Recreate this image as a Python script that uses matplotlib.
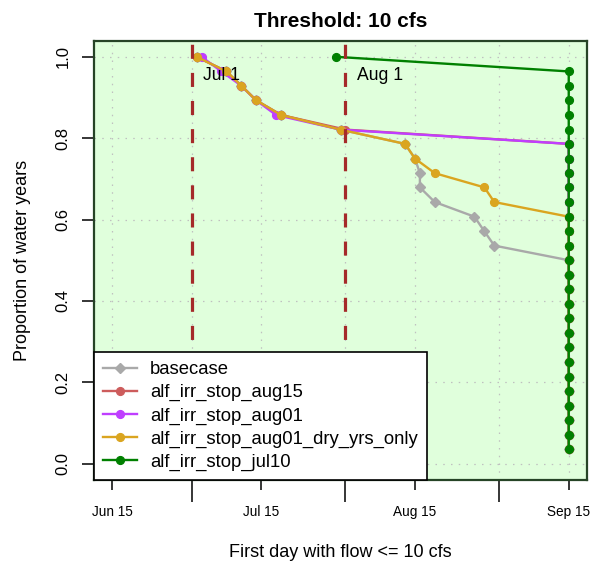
import pandas as pd
import numpy as np
import matplotlib
matplotlib.use("Agg")
import matplotlib.pyplot as plt

plt.rcParams['font.family'] = ['Liberation Sans', 'DejaVu Sans']

## Proportion of water years (28 years), highest first
proportion = [1.000, 0.964, 0.929, 0.893, 0.857, 0.821, 0.786, 0.750, 0.714, 0.679,
              0.643, 0.607, 0.571, 0.536, 0.500, 0.464, 0.429, 0.393, 0.357, 0.321,
              0.286, 0.250, 0.214, 0.179, 0.143, 0.107, 0.071, 0.036]

## First day with flow <= 10 cfs, sorted (Sep 15 = threshold not reached)
basecase = ["07-02", "07-08", "07-11", "07-14", "07-19", "07-31", "08-13", "08-15",
            "08-16", "08-16", "08-19", "08-27", "08-29", "08-31",
            "09-15", "09-15", "09-15", "09-15", "09-15", "09-15", "09-15",
            "09-15", "09-15", "09-15", "09-15", "09-15", "09-15", "09-15"]
stop_aug15 = ["07-02", "07-08", "07-11", "07-14", "07-19", "08-01",
              "09-15", "09-15", "09-15", "09-15", "09-15", "09-15", "09-15", "09-15",
              "09-15", "09-15", "09-15", "09-15", "09-15", "09-15", "09-15",
              "09-15", "09-15", "09-15", "09-15", "09-15", "09-15", "09-15"]
stop_aug01 = ["07-03", "07-07", "07-11", "07-14", "07-18", "07-31",
              "09-15", "09-15", "09-15", "09-15", "09-15", "09-15", "09-15", "09-15",
              "09-15", "09-15", "09-15", "09-15", "09-15", "09-15", "09-15",
              "09-15", "09-15", "09-15", "09-15", "09-15", "09-15", "09-15"]
stop_aug01_dry = ["07-02", "07-08", "07-11", "07-14", "07-19", "07-31", "08-13", "08-15",
                  "08-19", "08-29", "08-31",
                  "09-15", "09-15", "09-15", "09-15", "09-15", "09-15", "09-15",
                  "09-15", "09-15", "09-15", "09-15", "09-15", "09-15", "09-15",
                  "09-15", "09-15", "09-15"]
stop_jul10 = ["07-30",
              "09-15", "09-15", "09-15", "09-15", "09-15", "09-15", "09-15", "09-15",
              "09-15", "09-15", "09-15", "09-15", "09-15", "09-15", "09-15", "09-15",
              "09-15", "09-15", "09-15", "09-15", "09-15", "09-15", "09-15", "09-15",
              "09-15", "09-15", "09-15"]

series = [basecase, stop_aug15, stop_aug01, stop_aug01_dry, stop_jul10]
names = ["basecase", "alf_irr_stop_aug15", "alf_irr_stop_aug01",
         "alf_irr_stop_aug01_dry_yrs_only", "alf_irr_stop_jul10"]
colors = ["#A9A9A9", "#CD5C5C", "#BF3EFF", "#DAA520", "#008000"]
markers = ["D", "o", "o", "o", "o"]

tick_labels = ["Jun 15", "Jul 15", "Aug 15", "Sep 15"]
month_starts = ["07-01", "08-01", "09-01"]
marker_labels = ["Jul 1", "Aug 1"]

def to_dates(days):
    return pd.to_datetime(["2001-" + d for d in days])

fig = plt.figure(figsize=(5.93, 5.69), dpi=100)
ax = fig.add_axes([94/593, 1 - 480/569, 493/593, 439.5/569])
ax.set_facecolor('#E0FFDC')

for vals, name, col, mk in zip(series, names, colors, markers):
    ms = 4.6 if mk == "D" else 5.6
    ax.plot(to_dates(vals), proportion, color=col, marker=mk, ms=ms, lw=1.7,
            label=name, zorder=3)

## Vertical marker lines at Jul 1 and Aug 1
for d, lab in zip(to_dates(["07-01", "08-01"]), marker_labels):
    ax.axvline(d, color='#A52A2A', lw=2.3, ls=(0, (4.4, 4.4)), zorder=4)
    ax.annotate(lab, (d, 0.953), xytext=(8, 0), textcoords='offset points',
                ha='left', va='center', fontsize=12.7, zorder=4)

## Axes limits (R style 4% padding)
x0 = pd.Timestamp("2001-06-15")
x1 = pd.Timestamp("2001-09-15")
pad = (x1 - x0) * 0.04
ax.set_xlim(x0 - pad, x1 + pad)
ax.set_ylim(-0.04, 1.04)

major = to_dates(["06-15", "07-15", "08-15", "09-15"])
ax.set_xticks(major)
ax.set_xticklabels(tick_labels, fontsize=9.8)
ax.set_xticks(to_dates(month_starts), minor=True)
ax.tick_params(axis='x', which='major', length=7.2, width=1.1, pad=11)
ax.tick_params(axis='x', which='minor', length=16, width=1.1)

ax.set_yticks([0.0, 0.2, 0.4, 0.6, 0.8, 1.0])
ax.set_yticklabels(["0.0", "0.2", "0.4", "0.6", "0.8", "1.0"], fontsize=12,
                   rotation=90, va='center')
ax.tick_params(axis='y', length=9, width=1.1, pad=8)

ax.grid(True, which='both', color='#C0C0C0', lw=0.9, ls=(0, (1.2, 5)))
ax.set_axisbelow(True)
for s in ax.spines.values():
    s.set_color('#264426')
    s.set_linewidth(1.6)

ax.set_title("Threshold: 10 cfs", fontsize=15, fontweight='bold', pad=10)
ax.set_xlabel("First day with flow <= 10 cfs", fontsize=13)
ax.set_ylabel("Proportion of water years", fontsize=13)
ax.xaxis.set_label_coords(0.5, -0.145)
ax.yaxis.set_label_coords(-0.128, 0.5)

leg = ax.legend(loc='lower left', bbox_to_anchor=(0, 0), borderaxespad=0,
                fontsize=13.3, fancybox=False, framealpha=1, edgecolor='black',
                handlelength=1.84, handletextpad=0.7, labelspacing=0.32,
                borderpad=0.5, numpoints=1)
leg.get_frame().set_linewidth(1.2)
leg.set_zorder(6)

plt.savefig("out.png", dpi=100)
